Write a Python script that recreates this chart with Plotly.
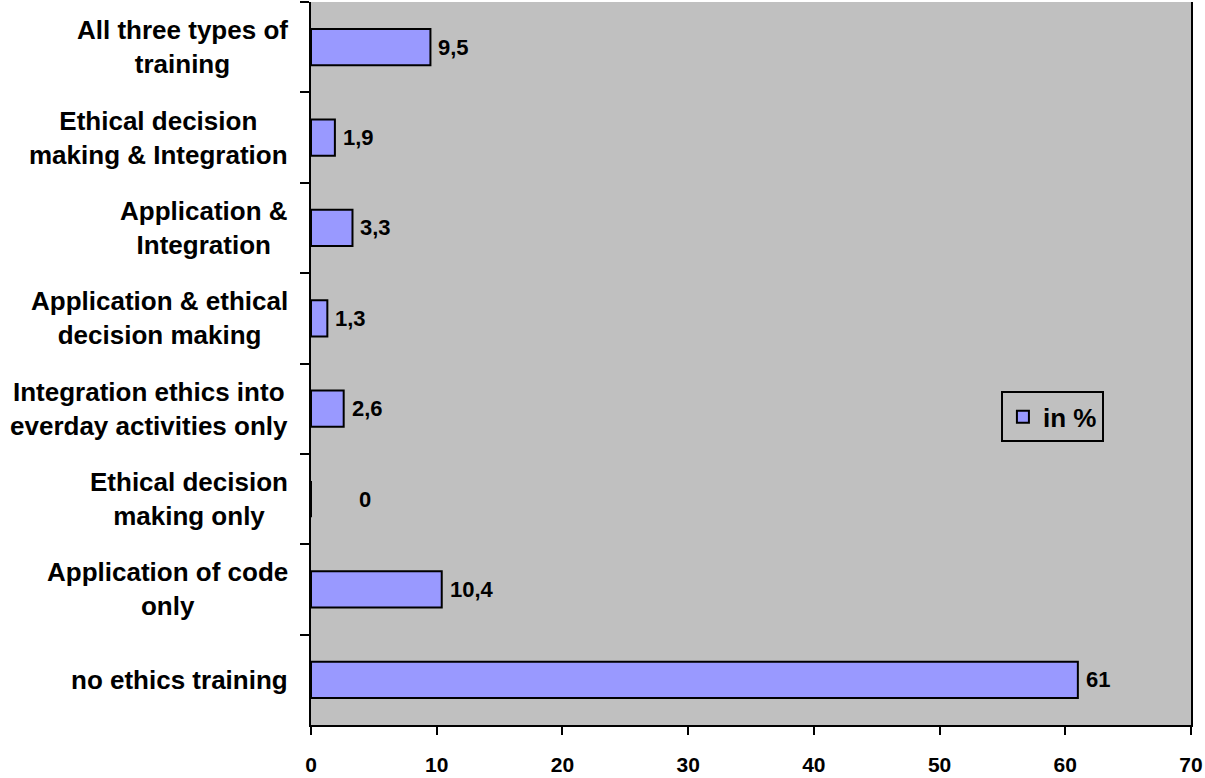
import plotly.graph_objects as go

# Training categories, listed top to bottom as they appear on the chart
categories = [
    "All three types of<br>training",
    "Ethical decision<br>making & Integration",
    "Application &<br>Integration",
    "Application & ethical<br>decision making",
    "Integration ethics into<br>everday activities only",
    "Ethical decision<br>making only",
    "Application of code<br>only",
    "no ethics training",
]
values = [9.5, 1.9, 3.3, 1.3, 2.6, 0, 10.4, 61]
x_ticks = [0, 10, 20, 30, 40, 50, 60, 70]
series_name = "in %"

FONT = "Arial, Liberation Sans, sans-serif"
BAR_FILL = "#9999ff"
PLOT_BG = "#c0c0c0"

fig = go.Figure(
    go.Bar(
        y=categories,
        x=values,
        orientation="h",
        name=series_name,
        marker=dict(color=BAR_FILL, line=dict(color="black", width=2)),
        showlegend=True,
    )
)


def fmt(v):
    # decimal comma, no trailing zeros
    return f"{v:g}".replace(".", ",")


annotations = []
# value labels beside each bar
for cat, v in zip(categories, values):
    annotations.append(dict(
        x=v, y=cat, xref="x", yref="y",
        text=fmt(v), showarrow=False,
        xanchor="left", yanchor="middle",
        xshift=6 if v > 0 else 46,
        font=dict(family=FONT, size=22, color="black", weight="bold"),
    ))
# category labels, centred line by line
for cat in categories:
    annotations.append(dict(
        x=0, y=cat, xref="paper", yref="y",
        text=cat, showarrow=False,
        xanchor="right", yanchor="middle", align="center",
        xshift=-21,
        font=dict(family=FONT, size=26, color="black", weight="bold"),
    ))

fig.update_layout(
    width=1205,
    height=778,
    margin=dict(l=311, r=14, t=2, b=44),
    paper_bgcolor="white",
    plot_bgcolor=PLOT_BG,
    bargap=0.6,
    font=dict(family=FONT, color="black"),
    annotations=annotations,
    legend=dict(
        x=0.784, y=0.391, xanchor="left", yanchor="bottom",
        bgcolor=PLOT_BG, bordercolor="black", borderwidth=2,
        font=dict(family=FONT, size=26, color="black", weight="bold"),
    ),
    xaxis=dict(
        range=[0, 70],
        tickvals=x_ticks,
        ticktext=[str(t) for t in x_ticks],
        showgrid=False,
        zeroline=False,
        showline=True,
        linecolor="black",
        linewidth=2,
        ticks="outside",
        ticklen=8,
        tickwidth=2,
        tickcolor="black",
        ticklabelstandoff=12,
        tickfont=dict(family=FONT, size=21, color="black", weight="bold"),
    ),
    yaxis=dict(
        type="category",
        categoryorder="array",
        categoryarray=categories,
        autorange="reversed",
        showticklabels=False,
        showgrid=False,
        zeroline=False,
        showline=True,
        mirror=True,
        linecolor="black",
        linewidth=2,
        ticks="outside",
        tickson="boundaries",
        ticklen=9,
        tickwidth=2,
        tickcolor="black",
    ),
)

fig.write_html("out.html")
